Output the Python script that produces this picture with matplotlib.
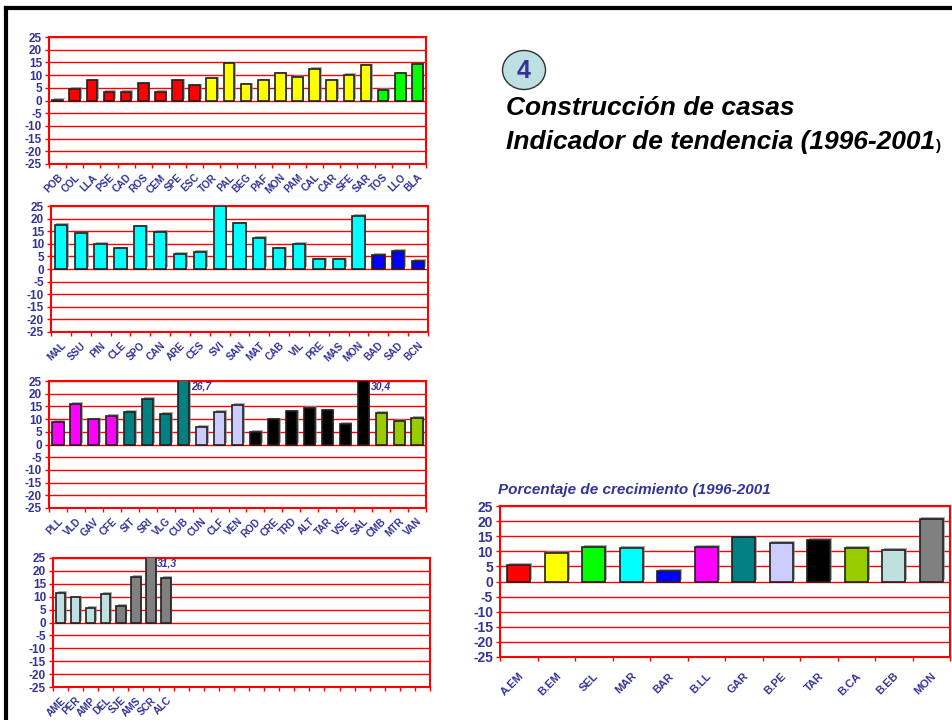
import matplotlib
matplotlib.use("Agg")
import matplotlib.pyplot as plt
import matplotlib.patheffects as pe
from matplotlib.lines import Line2D
from matplotlib.patches import Ellipse

plt.rcParams['font.family'] = ['Liberation Sans', 'DejaVu Sans']
plt.rcParams['axes.unicode_minus'] = False

NAVY = '#333399'
RED = '#ff0000'

RED_B = '#ff0000'
YELLOW = '#ffff00'
GREEN = '#00ff00'
CYAN = '#00ffff'
BLUE = '#0000ff'
MAGENTA = '#ff00ff'
TEAL = '#008080'
LAVENDER = '#ccccff'
BLACK = '#000000'
OLIVE = '#99cc00'
LIGHTBLUE = '#c0e0e0'
GRAY = '#808080'

# --- comarcas, bloque 1
labels1 = ['POB', 'COL', 'LLA', 'PSE', 'CAD', 'ROS', 'CEM', 'SPE', 'ESC', 'TOR', 'PAL',
           'BEG', 'PAF', 'MON', 'PAM', 'CAL', 'CAR', 'SFE', 'SAR', 'TOS', 'LLO', 'BLA']
values1 = [0.3, 4.5, 7.9, 3.3, 3.4, 6.8, 3.4, 7.9, 6.0, 8.7, 14.6,
           6.3, 7.9, 10.7, 9.3, 12.4, 8.0, 10.0, 13.8, 4.3, 10.7, 14.3]
colors1 = [RED_B] * 9 + [YELLOW] * 10 + [GREEN] * 3

# --- bloque 2
labels2 = ['MAL', 'SSU', 'PIN', 'CLE', 'SPO', 'CAN', 'ARE', 'CES', 'SVI', 'SAN',
           'MAT', 'CAB', 'VIL', 'PRE', 'MAS', 'MON', 'BAD', 'SAD', 'BCN']
values2 = [17.5, 14.1, 9.9, 8.2, 16.9, 14.7, 5.9, 6.9, 25.1, 18.1,
           12.3, 8.2, 9.9, 3.9, 3.9, 21.1, 5.5, 7.1, 3.3]
colors2 = [CYAN] * 16 + [BLUE] * 3

# --- bloque 3
labels3 = ['PLL', 'VLD', 'GAV', 'CFE', 'SIT', 'SRI', 'VLG', 'CUB', 'CUN', 'CLF', 'VEN',
           'ROD', 'CRE', 'TRD', 'ALT', 'TAR', 'VSE', 'SAL', 'CMB', 'MTR', 'VAN']
values3 = [9.0, 16.0, 9.9, 11.2, 12.9, 18.1, 12.1, 26.7, 7.0, 12.9, 15.5,
           4.9, 9.9, 13.0, 14.5, 13.5, 8.1, 30.4, 12.4, 9.2, 10.5]
colors3 = [MAGENTA] * 4 + [TEAL] * 4 + [LAVENDER] * 3 + [BLACK] * 7 + [OLIVE] * 3

# --- bloque 4 (25 posiciones, solo 8 ocupadas)
labels4 = ['AME', 'PER', 'AMP', 'DEL', 'SJE', 'AMS', 'SCR', 'ALC']
values4 = [11.6, 9.8, 5.7, 11.2, 6.5, 17.8, 31.3, 17.3]
colors4 = [LIGHTBLUE] * 4 + [GRAY] * 4
slots4 = 25

# --- resumen por ámbitos
labels5 = ['A.EM', 'B.EM', 'SEL', 'MAR', 'BAR', 'B.LL', 'GAR', 'B.PE', 'TAR', 'B.CA', 'B.EB', 'MON']
values5 = [5.5, 9.5, 11.4, 11.1, 3.5, 11.5, 14.6, 12.8, 13.9, 11.1, 10.4, 20.8]
colors5 = [RED_B, YELLOW, GREEN, CYAN, BLUE, MAGENTA, TEAL, LAVENDER, BLACK, OLIVE, LIGHTBLUE, GRAY]

W, H = 953, 720
fig = plt.figure(figsize=(W / 100, H / 100), dpi=100)
fig.patch.set_facecolor('white')


def px_axes(x0, y0, x1, y1):
    # rectangle in pixels (top-left origin) -> figure axes
    return fig.add_axes([x0 / W, 1 - y1 / H, (x1 - x0) / W, (y1 - y0) / H])


def panel(ax, labels, values, colors, nslots=None, fs=7.2, yfs=8.5):
    n = nslots or len(labels)
    x = list(range(len(values)))
    bars = ax.bar(x, values, width=0.62, color=colors, edgecolor='#202020',
                  linewidth=1.2, zorder=3)
    for b in bars:
        b.set_path_effects([pe.SimplePatchShadow(offset=(1.2, 1.2), shadow_rgbFace='#888888',
                                                 alpha=0.7), pe.Normal()])
    ax.set_xlim(-0.5, n - 0.5)
    ax.set_ylim(-25, 25)
    ax.grid(axis='y', color=RED, linewidth=1.0, zorder=0)
    for s in ax.spines.values():
        s.set_color(RED)
        s.set_linewidth(1.5)
    ax.set_xticks(range(len(labels)))
    ax.set_xticklabels(labels, rotation=45, ha='right', va='top', rotation_mode='anchor',
                       color=NAVY, fontsize=fs, fontweight='bold')
    ax.tick_params(axis='x', length=0, pad=6)
    ax.set_xticks([i - 0.5 for i in range(n + 1)], minor=True)
    ax.tick_params(axis='x', which='minor', length=3, color=RED, width=1)
    ax.set_yticks(range(-25, 26, 5))
    ax.set_yticklabels([str(v) for v in range(-25, 26, 5)], fontweight='bold',
                       color=NAVY, fontsize=yfs)
    ax.tick_params(axis='y', length=3, color=RED, width=1, pad=2)


def over_label(ax, i, v):
    # value written beside a bar that leaves the scale
    ax.text(i + 0.42, 23.0, f'{v:.1f}'.replace('.', ','), color=NAVY, fontsize=7.5,
            fontweight='bold', style='italic', ha='left', va='center', zorder=4)


ax1 = px_axes(49, 37, 426, 164)
panel(ax1, labels1, values1, colors1)

ax2 = px_axes(51, 206, 428, 332)
panel(ax2, labels2, values2, colors2)

ax3 = px_axes(49, 381, 426, 508)
panel(ax3, labels3, values3, colors3)
for i, v in enumerate(values3):
    if v > 25:
        over_label(ax3, i, v)

ax4 = px_axes(53, 558, 430, 687)
panel(ax4, labels4, values4, colors4, nslots=slots4)
for i, v in enumerate(values4):
    if v > 25:
        over_label(ax4, i, v)

ax5 = px_axes(500, 506, 950, 657)
panel(ax5, labels5, values5, colors5, fs=8, yfs=10)
ax5.tick_params(axis='x', pad=10)
fig.text(498 / W, 1 - 490 / H, 'Porcentaje de crecimiento (1996-2001', color=NAVY,
         fontsize=11, fontweight='bold', style='italic', ha='left', va='center')

# encabezado
circ = Ellipse((524 / W, 1 - 70 / H), 43 / W, 39 / H, transform=fig.transFigure,
               facecolor='#bfe0e0', edgecolor='#303030', linewidth=1.0)
fig.add_artist(circ)
fig.text(524 / W, 1 - 71 / H, '4', color=NAVY, fontsize=18, fontweight='bold',
         ha='center', va='center')
fig.text(506 / W, 1 - 108 / H, 'Construcción de casas', fontsize=19, fontweight='bold',
         style='italic', ha='left', va='center')
t2 = fig.text(506 / W, 1 - 142 / H, 'Indicador de tendencia (1996-2001', fontsize=19,
              fontweight='bold', style='italic', ha='left', va='center')
fig.canvas.draw()
bb = t2.get_window_extent()
fig.text(bb.x1 / W + 1 / W, 1 - 146 / H, ')', fontsize=11, fontweight='bold',
         ha='left', va='center')

# marco
fig.add_artist(Line2D([6 / W, 6 / W], [0, 1 - 8 / H], transform=fig.transFigure,
                      color='black', linewidth=3))
fig.add_artist(Line2D([6 / W, 1], [1 - 8 / H, 1 - 8 / H], transform=fig.transFigure,
                      color='black', linewidth=3))

fig.savefig('out.png', dpi=100)
